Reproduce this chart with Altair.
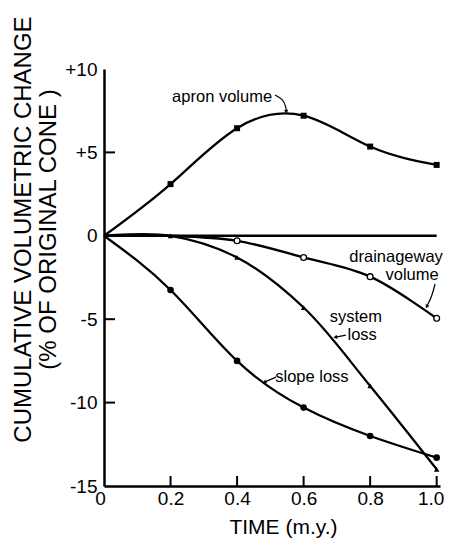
import altair as alt
import pandas as pd

# ---- data ----
TIME = [0.0, 0.2, 0.4, 0.6, 0.8, 1.0]
APRON = [0.0, 3.1, 6.45, 7.2, 5.35, 4.25]
DRAIN = [0.0, 0.0, -0.3, -1.3, -2.45, -4.95]
SYSTEM = [0.0, 0.0, -1.3, -4.3, -9.0, -14.0]
SLOPE = [0.0, -3.25, -7.5, -10.3, -12.0, -13.3]

X_TICKS = [0.2, 0.4, 0.6, 0.8, 1.0]
Y_TICKS = [5, -5, -10]
X_LABELS = [0, 0.2, 0.4, 0.6, 0.8, 1.0]
Y_LABELS = [-15, -10, -5, 0, 5, 10]

LABEL_TEXT = ["apron volume", "drainageway", "volume", "system", "loss", "slope loss"]
LABEL_T = [0.355, 0.878, 0.926, 0.757, 0.776, 0.625]
LABEL_V = [8.02, -1.57, -2.65, -5.17, -6.25, -8.77]

ARROW_ID = ["a", "a", "a", "a", "d", "d", "d", "s", "s", "l", "l"]
ARROW_ORD = [0, 1, 2, 3, 0, 1, 2, 0, 1, 0, 1]
ARROW_T = [0.514, 0.538, 0.547, 0.548, 0.995, 0.986, 0.971, 0.727, 0.697, 0.517, 0.484]
ARROW_V = [8.44, 8.20, 7.72, 7.48, -2.89, -3.61, -4.21, -5.95, -6.07, -8.47, -8.76]

HEAD_T = [0.548, 0.971, 0.697, 0.484]
HEAD_V = [7.48, -4.21, -6.07, -8.76]
HEAD_ANGLE = [170, 207, 259, 246]

FONT = "Liberation Sans"


def series(vals, start=0):
    return pd.DataFrame({"t": TIME[start:], "v": vals[start:]})


x_axis = alt.Axis(
    values=X_LABELS, ticks=False, grid=False, domainColor="black", domainWidth=2.5,
    labelFont=FONT, labelFontSize=19, labelColor="black", labelPadding=3, labelFlush=False,
    labelExpr="datum.value == 0 ? '0' : format(datum.value, '.1f')",
    labelOffset={"condition": [{"test": "datum.value == 0", "value": -4},
                               {"test": "datum.value >= 1", "value": -6}], "value": 0},
    title="TIME (m.y.)", titleFont=FONT, titleFontSize=21, titleFontWeight="normal",
    titleColor="black", titleX=179, titleY=47, titleBaseline="alphabetic", titleAlign="center",
)
y_axis = alt.Axis(
    values=Y_LABELS, ticks=False, grid=False, domainColor="black", domainWidth=2.5,
    labelFont=FONT, labelFontSize=19, labelColor="black", labelPadding=7,
    labelExpr="datum.value > 0 ? '+' + datum.value : '' + datum.value",
    title=["CUMULATIVE VOLUMETRIC CHANGE", "(%  OF  ORIGINAL   CONE )"],
    titleFont=FONT, titleFontSize=24, titleFontWeight="normal", titleColor="black",
    titleLineHeight=25, titleX=-81, titleY=160, titleBaseline="middle", titleAlign="center",
    titleAngle=270,
)
xs = alt.Scale(domain=[0, 1.01], nice=False, zero=False)
ys = alt.Scale(domain=[-15, 10], nice=False, zero=False)


def X():
    return alt.X("t:Q", scale=xs, axis=x_axis)


def Y():
    return alt.Y("v:Q", scale=ys, axis=y_axis)


def line(vals, interp):
    return alt.Chart(series(vals)).mark_line(
        interpolate=interp, color="black", strokeWidth=2.3).encode(x=X(), y=Y())


zero = alt.Chart(pd.DataFrame({"t": [0.0], "t2": [1.0], "v": [0.0]})).mark_rule(
    color="black", strokeWidth=2.5).encode(x=X(), x2="t2:Q", y=Y())

apron_pts = alt.Chart(series(APRON, 1)).mark_point(
    shape="square", filled=True, color="black", size=36, opacity=1).encode(x=X(), y=Y())
drain_pts = alt.Chart(series(DRAIN, 2)).mark_point(
    shape="circle", filled=True, fill="white", stroke="black", strokeWidth=1.3, size=34,
    opacity=1).encode(x=X(), y=Y())
system_pts = alt.Chart(series(SYSTEM, 1)).mark_point(
    shape="triangle-up", filled=True, color="black", size=30, opacity=1).encode(x=X(), y=Y())
slope_pts = alt.Chart(series(SLOPE, 1)).mark_point(
    shape="circle", filled=True, color="black", size=44, opacity=1).encode(x=X(), y=Y())

xticks = alt.Chart(pd.DataFrame({"t": X_TICKS})).mark_rule(color="black", strokeWidth=2).encode(
    x=X(), y=alt.value(417), y2=alt.value(407))
yticks = alt.Chart(pd.DataFrame({"v": Y_TICKS})).mark_rule(color="black", strokeWidth=2).encode(
    y=Y(), x=alt.value(0), x2=alt.value(11))

labels = alt.Chart(pd.DataFrame({"t": LABEL_T, "v": LABEL_V, "txt": LABEL_TEXT})).mark_text(
    font=FONT, fontSize=16.5, color="black", align="center", baseline="alphabetic").encode(
    x=X(), y=Y(), text="txt:N")

arrows = alt.Chart(pd.DataFrame({"t": ARROW_T, "v": ARROW_V, "id": ARROW_ID, "o": ARROW_ORD})).mark_line(
    color="black", strokeWidth=1.2, interpolate="basis").encode(
    x=X(), y=Y(), detail="id:N", order="o:Q")
heads = alt.Chart(pd.DataFrame({"t": HEAD_T, "v": HEAD_V, "a": HEAD_ANGLE})).mark_point(
    shape="triangle", filled=True, color="black", size=18, opacity=1).encode(
    x=X(), y=Y(), angle=alt.Angle("a:Q", scale=None))

chart = alt.layer(
    zero, line(APRON, "natural"), line(DRAIN, "catmull-rom"), line(SYSTEM, "catmull-rom"),
    line(SLOPE, "natural"),
    apron_pts, drain_pts, system_pts, slope_pts, xticks, yticks, labels, arrows, heads,
).properties(
    width=336, height=417, autosize="none",
    padding={"left": 96, "top": 61, "right": 6, "bottom": 54},
    background="white",
).configure_view(stroke=None)

chart.save("out.html", embed_options={"renderer": "svg", "actions": False})
